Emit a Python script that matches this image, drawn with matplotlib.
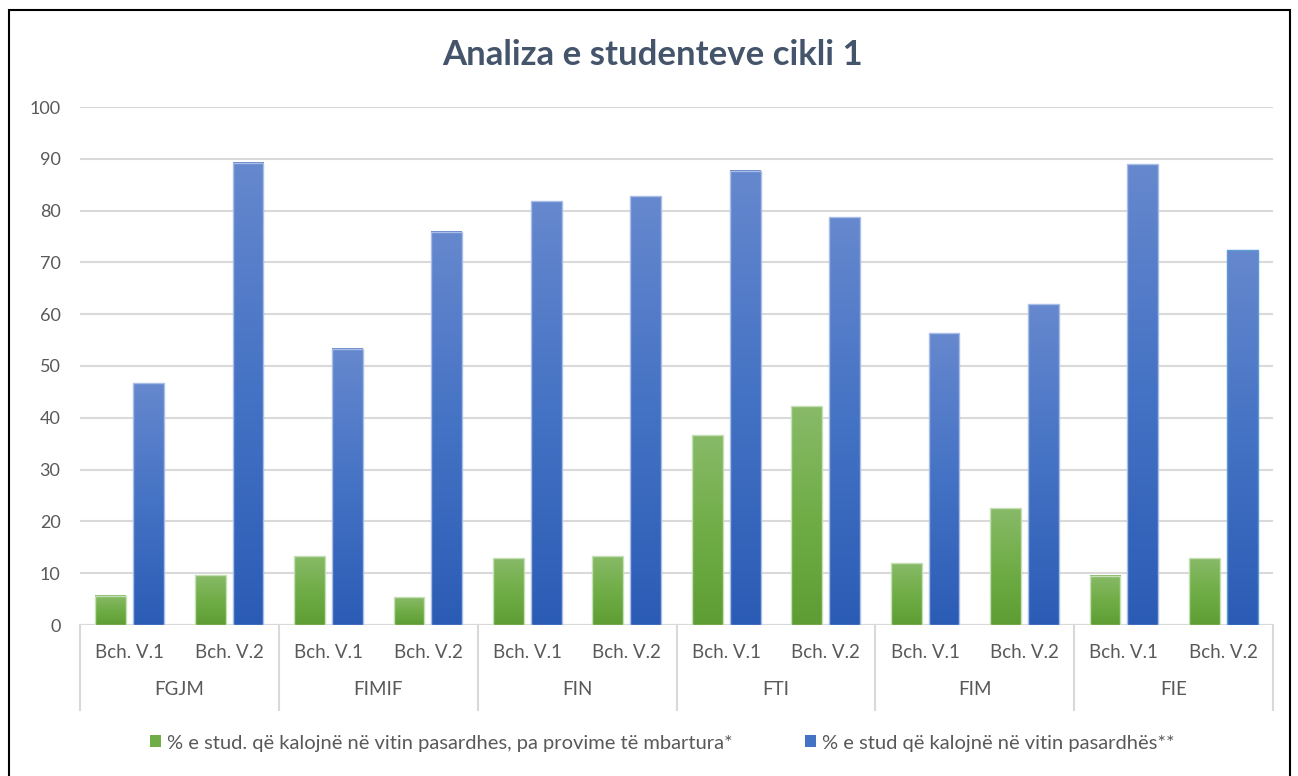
import numpy as np
import matplotlib
matplotlib.use("Agg")
import matplotlib.pyplot as plt
from matplotlib.colors import LinearSegmentedColormap
from matplotlib.patches import Rectangle
from matplotlib.lines import Line2D

# ---- data ----
groups = ["FGJM", "FIMIF", "FIN", "FTI", "FIM", "FIE"]
programs = ["Bch. V.1", "Bch. V.2"]
series_names = ["% e stud. që kalojnë në vitin pasardhes, pa provime të mbartura*",
                "% e stud që kalojnë në vitin pasardhës**"]
green_vals = [5.6, 9.6, 13.3, 5.4, 12.9, 13.3, 36.6, 42.2, 11.9, 22.5, 9.5, 12.9]
blue_vals = [46.7, 89.2, 53.3, 75.9, 81.8, 82.8, 87.7, 78.7, 56.3, 61.9, 88.9, 72.3]
title = "Analiza e studenteve cikli 1"
yticks = [0, 10, 20, 30, 40, 50, 60, 70, 80, 90, 100]

FONT = ["Lato", "DejaVu Sans"]
plt.rcParams['font.family'] = FONT
TXT = "#595959"

W, H = 1298, 776
fig = plt.figure(figsize=(W / 100, H / 100), dpi=100)
fig.patch.set_facecolor("white")
ax = fig.add_axes([80 / W, 1 - 625 / H, (1273 - 80) / W, (625 - 107) / H])

n = len(green_vals)
x = np.arange(n)
bw = 0.31
off = 0.19

green_cmap = LinearSegmentedColormap.from_list("g", ["#5E9D33", "#70AD47", "#88BA68"])
blue_cmap = LinearSegmentedColormap.from_list("b", ["#2B5CB5", "#4472C4", "#6688CE"])

bars_g = ax.bar(x - off, green_vals, bw, color="none", edgecolor="none", zorder=3)
bars_b = ax.bar(x + off, blue_vals, bw, color="none", edgecolor="none", zorder=3)

grad = np.linspace(0, 1, 256).reshape(-1, 1)
for bars, cmap, ec in ((bars_g, green_cmap, "#C5E0B4"), (bars_b, blue_cmap, "#A9BDE6")):
    for i, b in enumerate(bars):
        x0, w, h = b.get_x(), b.get_width(), b.get_height()
        ax.imshow(grad, cmap=cmap, origin="lower", extent=[x0, x0 + w, 0, h],
                  aspect="auto", zorder=3, interpolation="bicubic")
        edge = ec
        if bars is bars_b and i == n - 1:
            edge = "#5B9BD5"
        ax.add_patch(Rectangle((x0, 0), w, h, facecolor="none", edgecolor=edge,
                               linewidth=1.0, zorder=4))

ax.set_xlim(-0.5, n - 0.5)
ax.set_ylim(0, 100)
ax.set_yticks(yticks)
ax.set_yticklabels([str(t) for t in yticks], fontsize=13, color=TXT)
ax.tick_params(axis="y", length=0, pad=14)
ax.set_xticks([])
ax.grid(axis="y", color="#D9D9D9", linewidth=1.5, zorder=0)
ax.set_axisbelow(True)
for s in ax.spines.values():
    s.set_visible(False)
ax.axhline(0, color="#D9D9D9", linewidth=1.5, zorder=2)

# multi-level category axis
trans = ax.get_xaxis_transform()
for i in range(n):
    ax.text(x[i], -0.053, programs[i % 2], transform=trans, ha="center", va="center",
            fontsize=13.5, color=TXT, clip_on=False)
for g, name in enumerate(groups):
    ax.text(2 * g + 0.5, -0.125, name, transform=trans, ha="center", va="center",
            fontsize=13.5, color=TXT, clip_on=False)
for g in range(len(groups) + 1):
    ax.add_line(Line2D([2 * g - 0.5, 2 * g - 0.5], [0, -0.164], transform=trans,
                       color="#D9D9D9", linewidth=1.5, clip_on=False))

fig.text(653 / W, 1 - 55 / H, title, ha="center", va="center", fontsize=25,
         fontweight="bold", color="#44546A")

# legend
handles = [Rectangle((0, 0), 1, 1, facecolor="#70AD47"),
           Rectangle((0, 0), 1, 1, facecolor="#4472C4")]
fig.legend(handles, series_names, loc="center", bbox_to_anchor=(662 / W, 1 - 743 / H),
           ncol=2, frameon=False, fontsize=14.5, handlelength=0.55, handleheight=0.55,
           handletextpad=0.3, columnspacing=3.6, labelcolor=TXT)

# outer border
fig.add_artist(Rectangle((9 / W, -0.05), (1290 - 9) / W, 1.05 - 10 / H,
                         transform=fig.transFigure, facecolor="none",
                         edgecolor="black", linewidth=1.5))

fig.savefig("out.png", dpi=100, facecolor="white")
